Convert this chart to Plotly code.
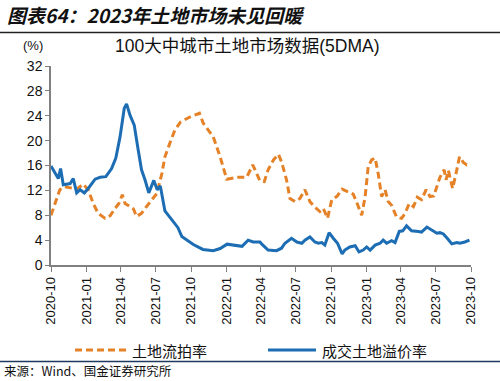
import plotly.graph_objects as go

# ---- data ----
orange_dates = ["2020-10-01","2020-10-11","2020-10-24","2020-11-06","2020-11-24","2020-12-07","2020-12-24",
 "2021-01-06","2021-01-19","2021-02-01","2021-02-19","2021-03-04","2021-03-17","2021-03-27","2021-04-05",
 "2021-04-12","2021-04-25","2021-05-04","2021-05-12","2021-05-25","2021-06-07","2021-06-21","2021-07-04",
 "2021-07-17","2021-07-25","2021-08-07","2021-08-20","2021-09-04","2021-09-28","2021-10-23","2021-11-02",
 "2021-11-28","2021-12-16","2022-01-02","2022-01-28","2022-02-23","2022-03-11","2022-03-30","2022-04-10",
 "2022-04-20","2022-05-04","2022-05-17","2022-05-25","2022-06-07","2022-06-16","2022-06-29","2022-07-12",
 "2022-07-25","2022-08-07","2022-08-20","2022-09-02","2022-09-11","2022-09-22","2022-10-03","2022-10-16",
 "2022-10-30","2022-11-13","2022-11-28","2022-12-10","2022-12-20","2022-12-29","2023-01-06","2023-01-15",
 "2023-01-24","2023-02-01","2023-02-10","2023-02-19","2023-02-27","2023-03-08","2023-03-21","2023-04-03",
 "2023-04-12","2023-04-23","2023-05-04","2023-05-14","2023-05-25","2023-06-06","2023-06-16","2023-06-26",
 "2023-07-12","2023-07-23","2023-07-28","2023-08-03","2023-08-14","2023-08-25","2023-09-01","2023-09-11",
 "2023-09-20","2023-09-27"]
orange_vals = [8.0,9.9,12.1,12.6,12.3,12.2,13.0,
 12.1,9.9,8.3,7.5,7.9,9.1,9.9,11.3,
 9.9,9.4,9.0,7.8,8.3,9.4,10.5,11.5,
 14.7,17.4,19.6,21.7,23.0,23.8,24.4,22.8,
 20.6,17.4,13.8,14.1,14.1,16.1,13.5,13.4,
 15.3,16.9,17.8,16.6,13.7,10.7,10.2,10.7,
 12.1,10.2,9.3,8.6,9.1,7.5,10.5,11.0,
 12.2,11.8,11.4,9.6,8.0,11.0,15.8,16.9,
 17.2,14.7,11.0,12.1,10.2,9.6,7.7,7.5,
 8.3,9.9,9.4,10.9,10.5,12.1,11.0,11.1,
 14.1,15.3,13.7,15.2,12.3,15.3,17.4,16.5,
 16.1,16.2]

blue_dates = ["2020-10-01","2020-10-20","2020-10-26","2020-11-02","2020-11-20","2020-11-28","2020-12-07",
 "2020-12-16","2020-12-27","2021-01-06","2021-01-24","2021-02-06","2021-02-21","2021-03-08","2021-03-19",
 "2021-03-30","2021-04-10","2021-04-16","2021-04-25","2021-05-06","2021-05-15","2021-05-25","2021-06-03",
 "2021-06-13","2021-06-26","2021-07-05","2021-07-13","2021-07-25","2021-08-28","2021-09-07","2021-10-07",
 "2021-11-01","2021-11-28","2021-12-16","2022-01-03","2022-01-24","2022-02-11","2022-02-27","2022-03-12",
 "2022-03-30","2022-04-03","2022-04-20","2022-05-12","2022-05-25","2022-06-03","2022-06-20","2022-07-04",
 "2022-07-17","2022-07-25","2022-08-07","2022-08-20","2022-08-29","2022-09-07","2022-09-15","2022-09-26",
 "2022-10-07","2022-10-18","2022-10-30","2022-11-06","2022-11-19","2022-12-03","2022-12-13","2022-12-24",
 "2023-01-02","2023-01-11","2023-01-24","2023-02-06","2023-02-14","2023-02-23","2023-03-08","2023-03-17",
 "2023-03-28","2023-04-06","2023-04-16","2023-04-29","2023-05-17","2023-05-25","2023-06-08","2023-06-20",
 "2023-07-04","2023-07-12","2023-07-21","2023-07-31","2023-08-12","2023-08-25","2023-09-02","2023-09-15",
 "2023-09-27"]
blue_vals = [15.9,13.9,15.5,12.9,13.1,13.9,11.6,
 12.1,11.6,12.3,13.8,14.1,14.2,15.5,17.2,
 20.6,25.2,25.9,24.1,22.5,19.0,15.3,13.7,
 11.6,13.6,12.1,12.7,8.7,6.0,4.6,3.3,
 2.5,2.3,2.65,3.35,3.2,3.0,4.0,3.7,
 3.7,3.4,2.4,2.3,2.7,3.5,4.3,3.7,
 3.5,4.0,4.5,3.7,3.5,3.6,3.2,5.2,
 4.3,3.5,1.8,2.4,2.9,3.1,2.1,2.4,
 2.9,2.4,3.2,3.5,4.0,3.5,3.9,3.6,
 5.4,5.5,6.3,5.5,5.4,5.3,6.1,5.7,
 5.1,5.2,5.0,4.3,3.4,3.6,3.5,3.7,
 4.0]

tick_vals = ["2020-10-01","2021-01-01","2021-04-01","2021-07-01","2021-10-01","2022-01-01","2022-04-01",
 "2022-07-01","2022-10-01","2023-01-01","2023-04-01","2023-07-01","2023-10-01"]
tick_text = [t[:7] for t in tick_vals]

name_orange = "土地流拍率"
name_blue = "成交土地溢价率"

ORANGE = "#E58126"
BLUE = "#1C6DB3"
ORANGE_DASH = "7px,4px"
CJK = "Noto Sans CJK SC"
LAT = "Liberation Sans"
MIX = "Liberation Sans, Noto Sans CJK SC"

W, H = 500, 381
L, R, T, B = 51, 29, 66, 116
pw, ph = W - L - R, H - T - B


def px(x):
    return (x - L) / pw


def py(y):
    return (H - B - y) / ph


fig = go.Figure()
fig.add_trace(go.Scatter(x=orange_dates, y=orange_vals, mode="lines", name=name_orange,
                         line=dict(color=ORANGE, width=3, dash=ORANGE_DASH)))
fig.add_trace(go.Scatter(x=blue_dates, y=blue_vals, mode="lines", name=name_blue,
                         line=dict(color=BLUE, width=3)))

fig.update_layout(
    width=W, height=H,
    margin=dict(l=L, r=R, t=T, b=B),
    paper_bgcolor="white", plot_bgcolor="white",
    showlegend=False,
    xaxis=dict(type="date", range=["2020-10-01", "2023-10-01"], tickmode="array",
               tickvals=tick_vals, ticktext=tick_text, tickangle=-90,
               showgrid=False, zeroline=False, showline=True, linecolor="#808080", linewidth=1.5,
               ticks="outside", ticklen=5, tickcolor="#808080",
               tickfont=dict(family=LAT, size=13, color="#111")),
    yaxis=dict(range=[0, 32], dtick=4, tick0=0, showgrid=False, zeroline=False,
               showline=True, linecolor="#808080", linewidth=1.5,
               ticks="outside", ticklen=4, tickcolor="#808080",
               tickfont=dict(family=LAT, size=14, color="#111")),
)

ann = [
    dict(text="<b><i>图表64：2023年土地市场未见回暖</i></b>", x=5, y=15, xanchor="left",
         font=dict(family=CJK, size=19, color="#111")),
    dict(text="(%)", x=33, y=45, xanchor="center",
         font=dict(family=LAT, size=13, color="#111")),
    dict(text="100大中城市土地市场数据(5DMA)", x=247, y=46, xanchor="center",
         font=dict(family=MIX, size=17.5, color="#111")),
    dict(text="来源：Wind、国金证券研究所", x=2, y=370, xanchor="left",
         font=dict(family=CJK, size=12.5, color="#111")),
    dict(text=name_orange, x=130, y=350, xanchor="left",
         font=dict(family=CJK, size=15, color="#111")),
    dict(text=name_blue, x=320, y=350, xanchor="left",
         font=dict(family=CJK, size=15, color="#111")),
]
for a in ann:
    fig.add_annotation(xref="paper", yref="paper", showarrow=False, yanchor="middle",
                       x=px(a["x"]), y=py(a["y"]),
                       **{k: v for k, v in a.items() if k not in ("x", "y")})

# legend samples
fig.add_shape(type="line", xref="paper", yref="paper", x0=px(75), x1=px(126), y0=py(350), y1=py(350),
              line=dict(color=ORANGE, width=3, dash=ORANGE_DASH))
fig.add_shape(type="line", xref="paper", yref="paper", x0=px(268), x1=px(316), y0=py(350), y1=py(350),
              line=dict(color=BLUE, width=3))

# header and footer rules
for yy, col in [(32.5, "#222222"), (361.5, "#1F3A5F")]:
    fig.add_shape(type="line", xref="paper", yref="paper",
                  x0=px(0), x1=px(W), y0=py(yy), y1=py(yy),
                  line=dict(color=col, width=1.5))

fig.write_html("out.html", config={"displayModeBar": False},
               post_script="document.body.style.margin='0';")
